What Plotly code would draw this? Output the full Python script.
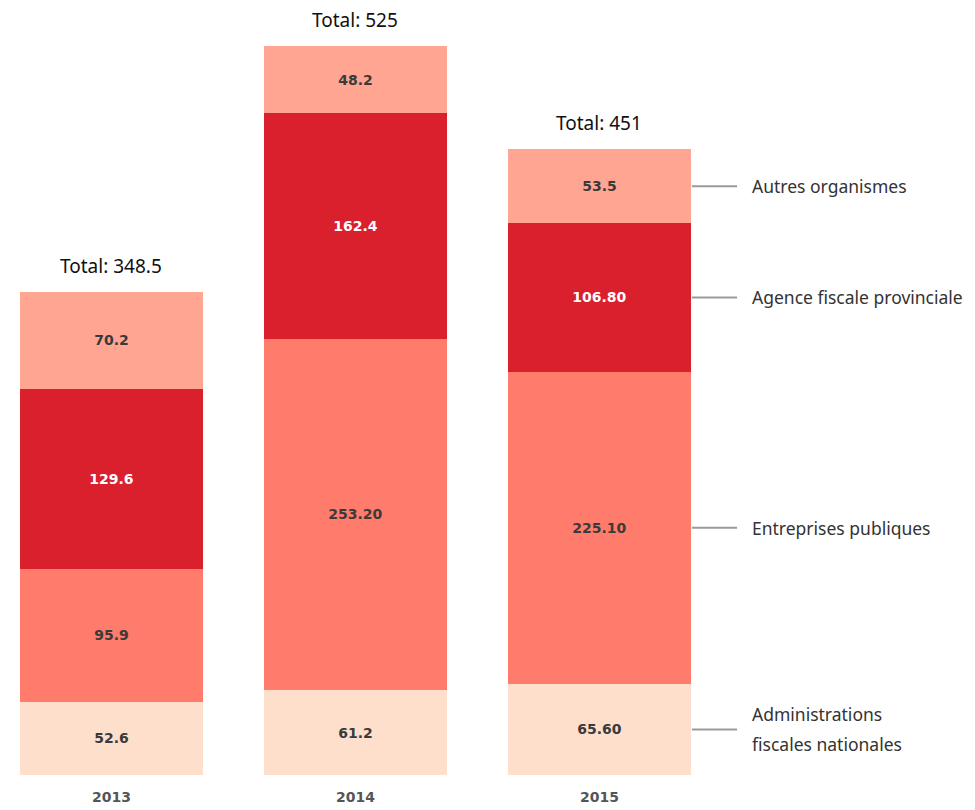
import plotly.graph_objects as go

years = ["2013", "2014", "2015"]
series_names = ["Administrations fiscales nationales", "Entreprises publiques",
                "Agence fiscale provinciale", "Autres organismes"]
legend_labels = [["Administrations", "fiscales nationales"], ["Entreprises publiques"],
                 ["Agence fiscale provinciale"], ["Autres organismes"]]
admin = [52.6, 61.2, 65.60]
entreprises = [95.9, 253.20, 225.10]
agence = [129.6, 162.4, 106.80]
autres = [70.2, 48.2, 53.5]
admin_txt = ["52.6", "61.2", "65.60"]
entreprises_txt = ["95.9", "253.20", "225.10"]
agence_txt = ["129.6", "162.4", "106.80"]
autres_txt = ["70.2", "48.2", "53.5"]
totals_txt = ["Total: 348.5", "Total: 525", "Total: 451"]

values = [admin, entreprises, agence, autres]
texts = [admin_txt, entreprises_txt, agence_txt, autres_txt]
colors = ["#FDDFCB", "#FF7B6B", "#DA1F2D", "#FFA592"]
text_colors = ["#3A3A3A", "#3A3A3A", "#FFFFFF", "#3A3A3A"]

FONT = "Noto Sans"
NUMFONT = "DejaVu Sans"
LINE_GAP = 30

fig = go.Figure()
for name, vals, txt, col, tcol in zip(series_names, values, texts, colors, text_colors):
    fig.add_trace(go.Bar(
        x=[0, 1, 2], y=vals, name=name, marker=dict(color=col, line=dict(width=0)),
        text=txt, textposition="inside", insidetextanchor="middle",
        textfont=dict(family=NUMFONT, size=14, color=tcol, weight="bold"),
        textangle=0, width=0.75, hoverinfo="skip", showlegend=False,
    ))

# totals above bars
for i in range(3):
    tot = admin[i] + entreprises[i] + agence[i] + autres[i]
    fig.add_annotation(x=i, y=tot, text=totals_txt[i], showarrow=False,
                       xref="x", yref="y", yanchor="bottom", yshift=11,
                       font=dict(family=FONT, size=19, color="#111111"))

# right-side labels aligned with 2015 segments
last = 2
base = 0
for vals, lines in zip(values, legend_labels):
    mid = base + vals[last] / 2
    base += vals[last]
    fig.add_shape(type="line", xref="x", yref="y", x0=2.379, x1=2.564, y0=mid, y1=mid,
                  line=dict(color="#9A9A9A", width=2))
    n = len(lines)
    for k, line in enumerate(lines):
        shift = ((n - 1) / 2 - k) * LINE_GAP
        fig.add_annotation(x=2.618, y=mid, text=line, showarrow=False, xref="x", yref="y",
                           xanchor="left", yanchor="middle", align="left", yshift=shift,
                           font=dict(family=FONT, size=17.5, color="#333333"))

fig.update_layout(
    barmode="stack",
    width=975, height=810,
    margin=dict(l=0, r=0, t=0, b=43),
    paper_bgcolor="white", plot_bgcolor="white",
    xaxis=dict(range=[-0.424, 3.572], tickvals=[0, 1, 2], ticktext=years,
               showgrid=False, zeroline=False, showline=False, ticks="",
               ticklabelstandoff=12,
               tickfont=dict(family=NUMFONT, size=14, color="#555555", weight="bold"),
               fixedrange=True),
    yaxis=dict(range=[0, 552.6], visible=False, showgrid=False, zeroline=False, fixedrange=True),
    showlegend=False,
)

fig.write_html("out.html")
